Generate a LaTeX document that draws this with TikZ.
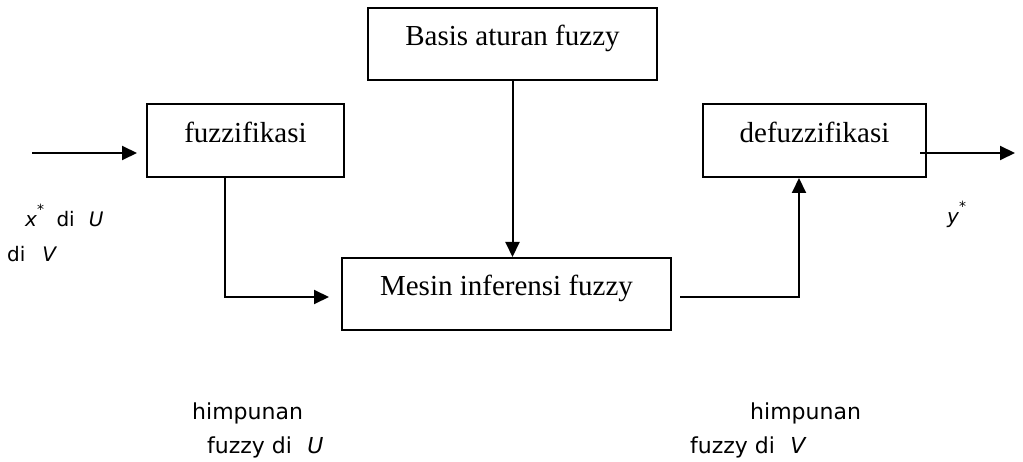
\documentclass[tikz,border=0pt]{standalone}
\usepackage{fontspec}
\setmainfont{Liberation Serif}
\newfontfamily\labfont{DejaVu Sans}
\usetikzlibrary{arrows.meta}
\begin{document}
\begin{tikzpicture}[x=1pt,y=-1pt,
  blk/.style={draw,line width=2pt,inner sep=0pt,font=\fontsize{29}{34}\selectfont,text height=0.7em,text depth=0.36em},
  conn/.style={line width=2pt,-{Triangle[length=15pt,width=14pt]}},
  lbl/.style={anchor=base west,inner sep=0pt,font=\labfont\fontsize{20}{24}\selectfont},
  blbl/.style={anchor=base west,inner sep=0pt,font=\labfont\fontsize{22}{26}\selectfont}]
\useasboundingbox (0,0) rectangle (1023,462);
% blocks
\node[blk,minimum width=289pt,minimum height=72pt] (basis) at (512.5,44) {Basis aturan fuzzy};
\node[blk,minimum width=197pt,minimum height=73pt] (fuzz) at (245.5,140.5) {fuzzifikasi};
\node[blk,minimum width=223pt,minimum height=73pt] (defuzz) at (814.5,140.5) {defuzzifikasi};
\node[blk,minimum width=329pt,minimum height=72pt] (mesin) at (506.5,294) {Mesin inferensi fuzzy};
% helper coordinates
\coordinate (inp) at (32,153);
\coordinate (outp) at (1015,153);
\coordinate (f1) at (225,0);
\coordinate (d1) at (799,0);
\coordinate (m0) at (0,297);
% connectors
\draw[conn,shorten >=9pt] (inp) -- (fuzz.west |- inp);
\draw[conn,shorten >=12pt] (fuzz.south -| f1) |- (mesin.west |- m0);
\draw[conn] (basis.south) -- (basis.south |- mesin.north);
\draw[conn,shorten <=8pt] (mesin.east |- m0) -| (defuzz.south -| d1);
\draw[conn,shorten <=-7pt] (defuzz.east |- outp) -- (outp);
% labels
\node[lbl] (xl) at (25,227) {\itshape x\raisebox{0.25em}{\textsuperscript{*}}\upshape\hspace{0.6em}di\hspace{0.7em}\itshape U};
\node[lbl] (vl) at (7,262) {di\hspace{0.85em}\itshape V};
\node[lbl] (yl) at (947,224) {\itshape y\raisebox{0.25em}{\textsuperscript{*}}};
\node[blbl] (h1) at (192,419) {himpunan};
\node[blbl] (f2) at (207,453) {fuzzy di\hspace{0.7em}\itshape U};
\node[blbl] (h2) at (750,419) {himpunan};
\node[blbl] (f3) at (690,453) {fuzzy di\hspace{0.7em}\itshape V};
\end{tikzpicture}
\end{document}
